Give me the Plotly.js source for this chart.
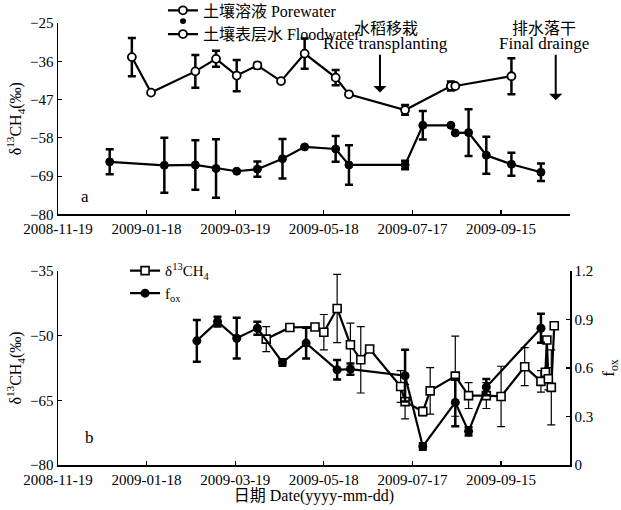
<!DOCTYPE html>
<html>
<head>
<meta charset="utf-8">
<script src="https://cdn.plot.ly/plotly-3.0.1.min.js"></script>
<style>html,body{margin:0;padding:0;background:#fff;}#chart{width:621px;height:510px;}</style>
</head>
<body>
<div id="chart"></div>
<script>
// ---- Panel a data ----
const floodDates = ['2009-01-08','2009-01-21','2009-02-20','2009-03-06','2009-03-20','2009-04-03','2009-04-19','2009-05-05','2009-05-26','2009-06-04','2009-07-12','2009-08-12','2009-08-15','2009-09-22'];
const floodVals  = [-34.8,-45.0,-38.9,-35.3,-40.1,-37.2,-41.7,-33.8,-40.7,-45.5,-50.0,-43.1,-43.1,-40.3];
const floodErr   = [5.5,0,4.7,2.3,4.5,0.8,0,4.35,2.2,0,1.4,1.3,0,5.2];

const poreDates = ['2008-12-24','2009-01-30','2009-02-20','2009-03-06','2009-03-20','2009-04-03','2009-04-20','2009-05-05','2009-05-26','2009-06-04','2009-07-12','2009-07-24','2009-08-12','2009-08-15','2009-08-24','2009-09-05','2009-09-22','2009-10-12'];
const poreVals  = [-64.9,-65.9,-65.8,-66.8,-67.6,-67.0,-64.0,-60.6,-61.2,-65.8,-65.8,-54.4,-54.4,-56.6,-56.5,-63.0,-65.6,-67.9];
const poreErr   = [3.6,7.9,7.1,8.4,0,2.2,5.7,0,3.7,5.7,1.2,4.1,0,0,6.7,5.3,3.3,2.5];

// ---- Panel b data ----
const d13Dates = ['2009-04-09','2009-04-25','2009-05-12','2009-05-18','2009-05-27','2009-06-05','2009-06-12','2009-06-18','2009-07-09','2009-07-12','2009-07-24','2009-07-29','2009-08-15','2009-08-24','2009-09-05','2009-09-15','2009-10-01','2009-10-12','2009-10-15','2009-10-16','2009-10-17','2009-10-19','2009-10-21'];
const d13Vals  = [-50.8,-48.1,-48.0,-49.2,-43.7,-52.1,-55.6,-53.1,-61.8,-65.3,-67.6,-62.8,-59.4,-63.9,-63.9,-64.1,-57.2,-60.6,-58.5,-51.0,-60.0,-62.0,-47.7];
const d13Err   = [2.9,0,0,4.1,7.9,5.0,7.7,0,3.7,4.0,1.0,5.4,9.3,3.0,3.0,7.0,4.4,2.5,0,0,2.6,8.7,0];

const foxDates = ['2009-02-21','2009-03-07','2009-03-20','2009-04-03','2009-04-20','2009-05-06','2009-05-27','2009-06-05','2009-07-12','2009-07-24','2009-08-15','2009-08-24','2009-09-05','2009-10-12'];
const foxVals  = [0.768,0.887,0.784,0.846,0.634,0.754,0.589,0.593,0.552,0.115,0.387,0.208,0.482,0.846];
const foxErr   = [0.129,0.03,0.126,0.04,0.02,0.095,0.06,0.035,0.16,0.02,0.147,0.025,0.05,0.09];

const xTickStart = '2008-11-19';
const xRange = ['2008-11-19','2009-10-31 16:00'];
const topTicks = [-80,-69,-58,-47,-36,-25];
const botTicks = [-80,-65,-50,-35];
const foxTicks = [0,0.3,0.6,0.9,1.2];
const foxTickText = ['0','0.3','0.6','0.9','1.2'];

const SERIF = '"Liberation Serif","Times New Roman","Noto Sans CJK SC",serif';
const DAY = 86400000;

const traces = [
  {x: floodDates, y: floodVals, xaxis:'x', yaxis:'y', mode:'lines+markers', showlegend:false,
   line:{color:'#000', width:2.2}, marker:{symbol:'circle', size:8, color:'#fff', line:{color:'#000', width:1.8}},
   error_y:{type:'data', array: floodErr, visible:true, color:'#000', thickness:2.5, width:4}},
  {x: poreDates, y: poreVals, xaxis:'x', yaxis:'y', mode:'lines+markers', showlegend:false,
   line:{color:'#000', width:2.2}, marker:{symbol:'circle', size:8, color:'#000', line:{color:'#000', width:1}},
   error_y:{type:'data', array: poreErr, visible:true, color:'#000', thickness:2.5, width:4}},
  // legend entries for panel a
  {x:[null], y:[null], xaxis:'x', yaxis:'y', mode:'lines+markers', name:'土壤溶液 Porewater', legend:'legend',
   line:{color:'#000', width:2.2}, marker:{symbol:'circle', size:8, color:'#fff', line:{color:'#000', width:1.8}}},
  {x:[null], y:[null], xaxis:'x', yaxis:'y', mode:'lines+markers', name:'土壤表层水 Floodwater', legend:'legend',
   line:{color:'#000', width:2.2}, marker:{symbol:'circle', size:8, color:'#fff', line:{color:'#000', width:1.8}}},
  // panel b
  {x: d13Dates, y: d13Vals, xaxis:'x2', yaxis:'y2', mode:'lines+markers', name:'δ<sup>13</sup>CH<sub>4</sub>', legend:'legend2',
   line:{color:'#000', width:2.2}, marker:{symbol:'square', size:8, color:'#fff', line:{color:'#000', width:1.6}},
   error_y:{type:'data', array: d13Err, visible:true, color:'#000', thickness:1.2, width:4}},
  {x: foxDates, y: foxVals, xaxis:'x2', yaxis:'y3', mode:'lines+markers', name:'f<sub>ox</sub>', legend:'legend2',
   line:{color:'#000', width:2.2}, marker:{symbol:'circle', size:9, color:'#000'},
   error_y:{type:'data', array: foxErr, visible:true, color:'#000', thickness:2.5, width:4}}
];

const axisCommon = {
  showgrid:false, zeroline:false, showline:true, linecolor:'#000', linewidth:1.5,
  ticks:'inside', ticklen:4, tickwidth:1.2, tickcolor:'#000',
  tickfont:{family:SERIF, size:15, color:'#000'}
};
const xCommon = Object.assign({}, axisCommon, {
  type:'date', range:xRange, tick0:xTickStart, dtick:60*DAY, tickformat:'%Y-%m-%d', ticklabelstandoff:0
});

const layout = {
  width:621, height:510,
  margin:{l:58, r:51, t:23, b:45, autoexpand:false},
  paper_bgcolor:'#fff', plot_bgcolor:'#fff',
  font:{family:SERIF, color:'#000'},
  xaxis: Object.assign({}, xCommon, {domain:[0,1], anchor:'y'}),
  yaxis: Object.assign({}, axisCommon, {domain:[0.567,1], anchor:'x', range:[-80,-25],
    tickmode:'array', tickvals:topTicks,
    title:{text:'δ<sup>13</sup>CH<sub>4</sub>(‰)', font:{family:SERIF, size:16, color:'#000'}, standoff:4}}),
  xaxis2: Object.assign({}, xCommon, {domain:[0,1], anchor:'y2',
    title:{text:'日期 Date(yyyy-mm-dd)', font:{family:SERIF, size:16, color:'#000'}, standoff:2}}),
  yaxis2: Object.assign({}, axisCommon, {domain:[0,0.439], anchor:'x2', range:[-80,-35],
    tickmode:'array', tickvals:botTicks,
    title:{text:'δ<sup>13</sup>CH<sub>4</sub>(‰)', font:{family:SERIF, size:16, color:'#000'}, standoff:4}}),
  yaxis3: Object.assign({}, axisCommon, {overlaying:'y2', side:'right', anchor:'x2', range:[0,1.2],
    tickmode:'array', tickvals:foxTicks, ticktext:foxTickText,
    title:{text:'f<sub>ox</sub>', font:{family:SERIF, size:17, color:'#000'}, standoff:16}}),
  legend:{x:0.205, y:1.067, xanchor:'left', yanchor:'top', bgcolor:'rgba(0,0,0,0)',
    font:{family:SERIF, size:16, color:'#000'}, tracegroupgap:0, itemwidth:30},
  legend2:{x:0.131, y:0.4765, xanchor:'left', yanchor:'top', bgcolor:'rgba(0,0,0,0)',
    font:{family:SERIF, size:15, color:'#000'}, tracegroupgap:0, itemwidth:30},
  shapes:[
    {type:'circle', xref:'paper', yref:'paper', x0:0.2383, x1:0.2500, y0:0.998, y1:1.011,
     fillcolor:'#000', line:{color:'#000', width:0}}
  ],
  annotations:[
    {xref:'x', yref:'y', x:'2009-06-29', y:-26.5, text:'水稻移栽', showarrow:false, font:{family:SERIF, size:16}},
    {xref:'x', yref:'y', x:'2009-06-29', y:-30.8, text:'Rice transplanting', showarrow:false, font:{family:SERIF, size:17}},
    {xref:'x', yref:'y', x:'2009-10-14', y:-26.5, text:'排水落干', showarrow:false, font:{family:SERIF, size:16}},
    {xref:'x', yref:'y', x:'2009-10-14', y:-30.8, text:'Final drainge', showarrow:false, font:{family:SERIF, size:17}},
    {xref:'x', yref:'y', axref:'x', ayref:'y', x:'2009-06-25', y:-45.0, ax:'2009-06-25', ay:-33.7, text:'',
     showarrow:true, arrowhead:1, arrowsize:1.1, arrowwidth:2, arrowcolor:'#000'},
    {xref:'x', yref:'y', axref:'x', ayref:'y', x:'2009-10-22', y:-47.2, ax:'2009-10-22', ay:-33.7, text:'',
     showarrow:true, arrowhead:1, arrowsize:1.1, arrowwidth:2, arrowcolor:'#000'},
    {xref:'x', yref:'y', x:'2008-12-07', y:-75.0, text:'a', showarrow:false, font:{family:SERIF, size:17}},
    {xref:'x2', yref:'y2', x:'2008-12-10', y:-73.7, text:'b', showarrow:false, font:{family:SERIF, size:17}}
  ]
};

Plotly.newPlot('chart', traces, layout, {displayModeBar:false, staticPlot:true});
</script>
</body>
</html>
